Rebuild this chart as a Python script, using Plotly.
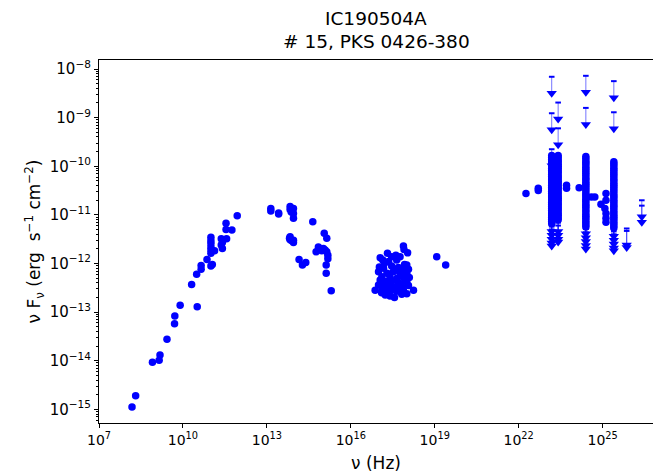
import numpy as np
import plotly.graph_objects as go

# ---- data (log10 nu [Hz], log10 nuFnu [erg s-1 cm-2]) ----
radio_lx = [8.18, 8.31, 8.91, 9.15, 9.18, 9.43, 9.70, 9.71, 9.90, 10.51, 10.31, 10.49, 10.65, 10.65,
            10.86, 11.00, 11.05, 11.00, 11.00, 11.00, 11.00, 11.00, 11.00, 11.13, 11.37, 11.41, 11.37,
            11.41, 11.54, 11.54, 11.56, 11.75, 11.94]
radio_ly = [-14.95, -14.72, -14.03, -13.99, -13.88, -13.56, -13.24, -13.08, -12.86, -12.89, -12.43, -12.22,
            -12.12, -12.04, -11.92, -12.05, -12.02, -11.46, -11.53, -11.59, -11.66, -11.72, -11.79, -11.74,
            -11.49, -11.57, -11.62, -11.69, -11.17, -11.30, -11.49, -11.31, -11.02]

ir_lx = [13.14, 13.14, 13.42, 13.42, 13.83, 13.83, 13.95, 13.87, 13.95, 13.95, 14.64, 13.83, 13.83, 13.89,
         13.95, 13.95, 13.81, 15.05, 15.14, 14.84, 14.76, 14.90, 15.02, 15.08, 15.14, 15.18, 15.18, 14.96,
         14.15, 14.27, 14.39, 15.12, 15.12, 15.30]
ir_ly = [-10.87, -10.92, -10.96, -10.98, -10.83, -10.89, -10.87, -10.94, -10.97, -11.07, -11.14, -11.45,
         -11.51, -11.53, -11.52, -11.57, -11.48, -11.38, -11.48, -11.66, -11.76, -11.71, -11.69, -11.72,
         -11.76, -11.83, -11.90, -11.74, -11.92, -12.03, -11.98, -12.03, -12.20, -12.56]

xray_lx = [17.88, 17.90, 18.03, 17.31, 17.61, 17.46, 17.76, 17.05, 17.14, 17.35, 17.64, 18.00, 17.02, 17.17,
           17.46, 17.70, 17.88, 18.06, 16.99, 17.29, 17.52, 17.76, 18.00, 17.11, 17.40, 17.64, 17.88, 18.09,
           17.05, 17.23, 17.46, 17.70, 18.00, 16.99, 17.17, 17.35, 17.58, 17.82, 18.06, 16.87, 17.11, 17.29,
           17.46, 17.64, 17.88, 18.24, 17.23, 17.40, 17.56, 17.82, 18.00, 17.20, 17.55, 17.80, 17.95, 17.10,
           17.38, 17.68, 17.92, 17.25]
xray_ly = [-11.64, -11.71, -11.78, -11.79, -11.83, -11.86, -11.86, -11.88, -11.93, -11.96, -11.93, -12.03,
           -12.07, -12.10, -12.05, -12.08, -12.13, -12.12, -12.17, -12.20, -12.17, -12.20, -12.20, -12.27,
           -12.29, -12.31, -12.29, -12.29, -12.34, -12.37, -12.37, -12.39, -12.37, -12.44, -12.48, -12.46,
           -12.49, -12.48, -12.45, -12.55, -12.55, -12.56, -12.55, -12.57, -12.55, -12.55, -12.65, -12.67,
           -12.70, -12.63, -12.62, -12.00, -12.15, -12.42, -12.25, -12.60, -12.22, -12.52, -12.02, -12.40]

hx_lx = [19.07, 19.39]
hx_ly = [-11.86, -12.03]

# gamma-ray detections
gam_lx = [22.26, 22.70, 22.70, 23.71, 23.71, 24.16, 24.60, 24.72, 24.94, 25.08, 25.12, 25.12, 25.12,
          25.12, 25.12]
gam_ly = [-10.56, -10.45, -10.50, -10.39, -10.45, -10.44, -10.63, -10.63, -10.78, -10.87, -10.97, -11.07,
          -11.15, -10.56, -10.70]

# Fermi light-curve columns (detections)
col_lx = [23.18, 23.41, 24.40, 25.40]
col1_ly = [-9.78, -9.82, -9.86, -9.91, -9.95, -9.99, -10.04, -10.08, -10.12, -10.17, -10.21, -10.26, -10.30,
           -10.34, -10.39, -10.43, -10.47, -10.52, -10.56, -10.61, -10.65, -10.69, -10.74, -10.78, -10.83,
           -10.87, -10.91, -10.96, -11.00, -11.05, -11.09, -11.13, -11.18]
col2_ly = [-9.78, -9.82, -9.87, -9.91, -9.96, -10.00, -10.04, -10.09, -10.13, -10.18, -10.22, -10.26, -10.31,
           -10.35, -10.40, -10.44, -10.48, -10.53, -10.57, -10.62, -10.66, -10.70, -10.75, -10.79, -10.84,
           -10.88, -10.92, -10.97, -11.01, -11.06, -11.10]
col3_ly = [-9.80, -9.84, -9.89, -9.93, -9.97, -10.02, -10.06, -10.11, -10.15, -10.19, -10.24, -10.28, -10.33,
           -10.37, -10.41, -10.46, -10.50, -10.55, -10.59, -10.63, -10.68, -10.72, -10.77, -10.81, -10.85,
           -10.90, -10.94, -10.99, -11.03, -11.07, -11.12, -11.16, -11.21, -11.25]
col4_ly = [-9.91, -9.95, -9.99, -10.04, -10.08, -10.13, -10.17, -10.21, -10.26, -10.30, -10.35, -10.39, -10.43,
           -10.48, -10.52, -10.57, -10.61, -10.65, -10.70, -10.74, -10.79, -10.83, -10.87, -10.92, -10.96,
           -11.01, -11.05, -11.09, -11.14, -11.18, -11.23, -11.27]

# upper limits
ul_lx = [23.18, 23.41, 23.18, 23.41, 23.18, 24.40, 24.40, 25.40, 25.40, 25.86, 25.86, 26.40, 26.40,
         23.18, 23.18, 23.18, 23.18, 23.18, 23.41, 23.41, 23.41, 23.41,
         24.40, 24.40, 24.40, 24.40, 24.40, 25.40, 25.40, 25.40, 25.40, 25.40]
ul_ly = [-8.16, -8.69, -8.91, -9.22, -9.65, -8.14, -8.80, -8.25, -8.89, -11.28, -11.33, -10.70, -10.81,
         -11.00, -11.08, -11.16, -11.24, -11.30, -11.00, -11.08, -11.16, -11.22,
         -11.05, -11.13, -11.21, -11.29, -11.36, -11.10, -11.18, -11.26, -11.34, -11.40]

x_tick_exp = [7, 10, 13, 16, 19, 22, 25]
y_tick_exp = [-8, -9, -10, -11, -12, -13, -14, -15]

title_lines = ["IC190504A", "# 15, PKS 0426-380"]

BLUE = "#0000ff"

det_lx = radio_lx + ir_lx + xray_lx + hx_lx + gam_lx
det_ly = radio_ly + ir_ly + xray_ly + hx_ly + gam_ly
for lx, col in zip(col_lx, [col1_ly, col2_ly, col3_ly, col4_ly]):
    det_lx += [lx] * len(col)
    det_ly += col

fig = go.Figure()

# upper-limit arrows
ARROW = 0.34
seg_x, seg_y = [], []
for lx, ly in zip(ul_lx, ul_ly):
    seg_x += [10.0 ** lx, 10.0 ** lx, None]
    seg_y += [10.0 ** ly, 10.0 ** (ly - ARROW), None]
fig.add_trace(go.Scatter(x=seg_x, y=seg_y, mode="lines",
                         line=dict(color="rgba(0,0,255,0.55)", width=1), hoverinfo="skip"))
fig.add_trace(go.Scatter(x=[10.0 ** v for v in ul_lx], y=[10.0 ** v for v in ul_ly], mode="markers",
                         marker=dict(symbol="line-ew", size=4, line=dict(color=BLUE, width=2))))
fig.add_trace(go.Scatter(x=[10.0 ** v for v in ul_lx], y=[10.0 ** (v - ARROW) for v in ul_ly], mode="markers",
                         marker=dict(symbol="triangle-down", size=9, color=BLUE, line=dict(width=0))))

fig.add_trace(go.Scatter(x=[10.0 ** v for v in det_lx], y=[10.0 ** v for v in det_ly], mode="markers",
                         marker=dict(symbol="circle", size=7.5, color=BLUE, line=dict(width=0))))

minor_y = [m * 10.0 ** e for e in range(-16, -7) for m in range(2, 10)]

fig.update_layout(
    width=653, height=475,
    margin=dict(l=99, r=0, t=60, b=52),
    paper_bgcolor="white", plot_bgcolor="white",
    showlegend=False,
    font=dict(family="DejaVu Sans", color="black", size=14),
)
# title lines placed as annotations (centred over the axes)
for text, ypos in zip(title_lines, [1.1157, 1.0496]):
    fig.add_annotation(text=text, x=0.5, y=ypos, xref="paper", yref="paper",
                       xanchor="center", yanchor="middle", showarrow=False,
                       font=dict(size=18.5, color="black"))

fig.update_xaxes(type="log", range=[7, 26.8],
                 tickvals=[10.0 ** e for e in x_tick_exp],
                 ticktext=[f"10<sup>{e}</sup>" for e in x_tick_exp],
                 ticks="outside", ticklen=4, tickcolor="black",
                 showline=True, linecolor="black", linewidth=1.2, mirror=True,
                 showgrid=False, zeroline=False,
                 title=dict(text="ν (Hz)", standoff=10))
fig.update_yaxes(type="log", range=[-15.28, -7.815],
                 tickvals=[10.0 ** e for e in y_tick_exp],
                 ticktext=[f"10<sup>−{-e}</sup>" for e in y_tick_exp],
                 tickfont=dict(size=15),
                 ticks="outside", ticklen=4, tickcolor="black",
                 minor=dict(tickvals=minor_y, ticks="outside", ticklen=2, tickcolor="black"),
                 showline=True, linecolor="black", linewidth=1.2, mirror=False,
                 showgrid=False, zeroline=False,
                 title=dict(text="ν F<sub>ν</sub> (erg  s<sup>−1</sup> cm<sup>−2</sup>)", standoff=4))

fig.write_html("out.html")
